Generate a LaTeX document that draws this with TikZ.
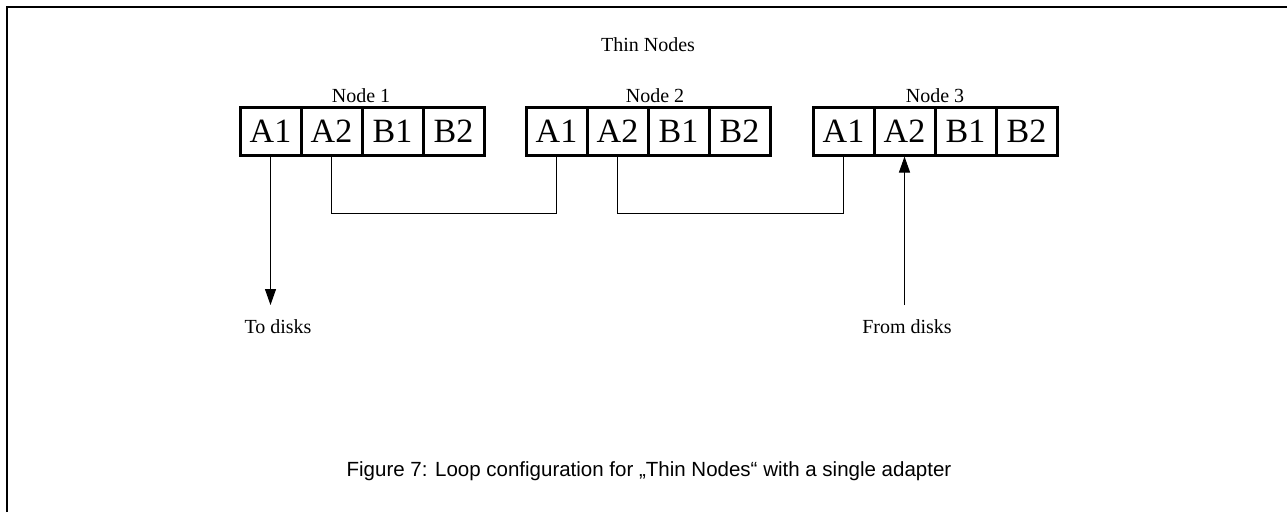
\documentclass[tikz,border=0pt]{standalone}
\usepackage{fontspec}
\setmainfont{Liberation Serif}
\newfontfamily\capfont{Liberation Sans}
\usetikzlibrary{arrows.meta}
\begin{document}
\begin{tikzpicture}[x=1pt,y=-1pt,
  cell/.style={draw,line width=3pt,minimum width=61pt,minimum height=48pt,
    inner sep=0pt,font=\fontsize{34}{34}\selectfont},
  lbl/.style={inner sep=0pt,anchor=base,font=\fontsize{20}{20}\selectfont},
  wire/.style={line width=1pt},
  tip/.style={-{Triangle[length=16pt,width=11pt]}}]
\useasboundingbox (0,0) rectangle (1287,512);
% frame
\draw[line width=2pt] (7,512) -- (7,7) -- (1287,7);
% title
\node[lbl] (title) at (648,51) {Thin Nodes};
% adapter cells of the three nodes
\foreach \n/\x in {1/240,2/526,3/813}{
  \node[cell] (n\n a1) at (\x+30.5,131) {A1};
  \node[cell] (n\n a2) at (\x+91.5,131) {A2};
  \node[cell] (n\n b1) at (\x+152.5,131) {B1};
  \node[cell] (n\n b2) at (\x+213.5,131) {B2};
}
\node[lbl] (l1) at (361,102) {Node 1};
\node[lbl] (l2) at (655,102) {Node 2};
\node[lbl] (l3) at (935,102) {Node 3};
% loop wiring between nodes
\draw[wire] (n1a2.south) -- ++(0,56.5) -| (n2a1.south);
\draw[wire] (n2a2.south) -- ++(0,56.5) -| (n3a1.south);
% disk connections
\coordinate (todisk) at (n1a1.south |- 0,305);
\coordinate (fromdisk) at (n3a2.south |- 0,305);
\draw[wire,tip] (n1a1.south) -- (todisk);
\draw[wire,tip] (fromdisk) -- (n3a2.south);
\node[lbl] (t1) at (278,333) {To disks};
\node[lbl] (t2) at (907,333) {From disks};
% caption
\node[inner sep=0pt,anchor=base,font=\capfont\fontsize{20.5}{20.5}\selectfont] (cap) at (649,476)
  {Figure 7: Loop configuration for „Thin Nodes“ with a single adapter};
\end{tikzpicture}
\end{document}
